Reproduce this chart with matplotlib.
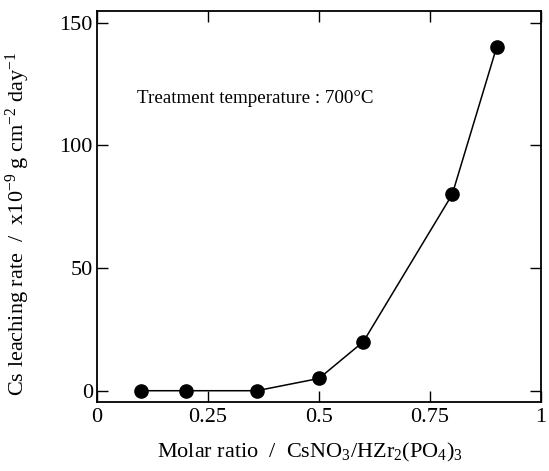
import matplotlib
matplotlib.use('Agg')
import matplotlib.pyplot as plt

# Data
molar_ratio = [0.1, 0.2, 0.36, 0.5, 0.6, 0.8, 0.9]
leach_rate = [0, 0, 0, 5, 20, 80, 140]
x_ticks = [0, 0.25, 0.5, 0.75, 1]
x_tick_labels = ['0', '0.25', '0.5', '0.75', '1']
y_ticks = [0, 50, 100, 150]

plt.rcParams['font.family'] = ['Liberation Serif', 'DejaVu Serif']
plt.rcParams['mathtext.fontset'] = 'custom'
plt.rcParams['mathtext.rm'] = 'Liberation Serif'
plt.rcParams['mathtext.default'] = 'regular'

fig = plt.figure(figsize=(5.49, 4.71), dpi=100)
ax = fig.add_axes([0.1767, 0.1465, 0.8087, 0.8301])

ax.plot(molar_ratio, leach_rate, 'k-', lw=1.1, marker='o', ms=9.5,
        mfc='k', mec='k')

ax.set_xlim(0, 1)
ax.set_ylim(-4.6, 154.8)
ax.set_xticks(x_ticks)
ax.set_xticklabels(x_tick_labels)
ax.set_yticks(y_ticks)

ax.tick_params(direction='in', length=8, width=1, top=True, right=True,
               labelsize=16, colors='k')
ax.tick_params(axis='x', pad=4)
ax.tick_params(axis='y', pad=3)
for sp in ax.spines.values():
    sp.set_linewidth(1.3)

ax.set_xlabel('Molar ratio  /  CsNO$_3$/HZr$_2$(PO$_4$)$_3$', fontsize=16)
ax.set_ylabel('Cs leaching rate  /  x10$^{-9}$ g cm$^{-2}$ day$^{-1}$',
              fontsize=16)
ax.xaxis.set_label_coords(0.48, -0.1)
ax.yaxis.set_label_coords(-0.146, 0.455)

ax.text(0.09, 119, 'Treatment temperature : 700\u00b0C', fontsize=13.7,
        va='center', ha='left')

fig.savefig('out.png', dpi=100)
